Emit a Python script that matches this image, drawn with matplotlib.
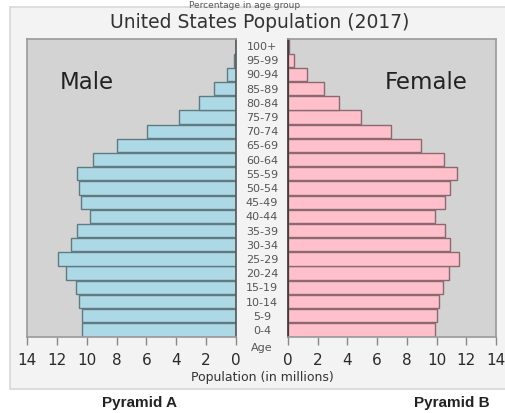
import matplotlib
matplotlib.use('Agg')
import matplotlib.pyplot as plt
from matplotlib.patches import Rectangle

ages = ['0-4', '5-9', '10-14', '15-19', '20-24', '25-29', '30-34', '35-39', '40-44',
        '45-49', '50-54', '55-59', '60-64', '65-69', '70-74', '75-79', '80-84',
        '85-89', '90-94', '95-99', '100+']
male = [10.3, 10.3, 10.55, 10.75, 11.4, 11.95, 11.05, 10.65, 9.75,
        10.4, 10.55, 10.65, 9.6, 7.95, 5.95, 3.8, 2.45, 1.45, 0.6, 0.15, 0.03]
female = [9.9, 10.0, 10.15, 10.4, 10.85, 11.5, 10.9, 10.6, 9.9,
          10.6, 10.9, 11.4, 10.5, 8.95, 6.9, 4.9, 3.45, 2.4, 1.25, 0.38, 0.05]
xticks = [0, 2, 4, 6, 8, 10, 12, 14]

W, H = 505, 414
fig = plt.figure(figsize=(W / 100, H / 100), dpi=100)
fig.patch.set_facecolor('white')

# light frame behind the chart
fig.patches.append(Rectangle((10 / W, 1 - 390 / H), 500 / W, 382 / H,
                             transform=fig.transFigure, facecolor='#f3f3f3',
                             edgecolor='#d8d8d8', linewidth=1.2, zorder=-5))


def pix(x0, y0, x1, y1):
    return [x0 / W, 1 - y1 / H, (x1 - x0) / W, (y1 - y0) / H]


axl = fig.add_axes(pix(27, 40, 236, 338))
axr = fig.add_axes(pix(288, 40, 496, 338))

pos = list(range(len(ages)))
axl.barh(pos, male, height=0.94, color='#add8e6', edgecolor='#5f7a80', linewidth=1.0)
axr.barh(pos, female, height=0.94, color='#ffc0cb', edgecolor='#8a6a70', linewidth=1.0)

for ax in (axl, axr):
    ax.set_facecolor('#d3d3d3')
    ax.set_xlim(0, 14)
    ax.set_ylim(-0.5, len(ages) - 0.5)
    ax.set_yticks([])
    ax.set_xticks(xticks)
    ax.tick_params(axis='x', direction='out', length=6, width=1, color='#888888',
                   labelsize=11, labelcolor='#2a2a2a', pad=5)
    for s in ax.spines.values():
        s.set_color('#9a9a9a')
        s.set_linewidth(1.2)
axl.invert_xaxis()
axl.spines['right'].set_color('#555555')
axr.spines['left'].set_color('#333333')

axl.text(0.287, 0.856, 'Male', transform=axl.transAxes, fontsize=16.5,
         color='#222222', ha='center', va='center')
axr.text(0.663, 0.856, 'Female', transform=axr.transAxes, fontsize=16.5,
         color='#222222', ha='center', va='center')

# age labels in the middle gap
cx = 262 / W
for i, a in enumerate(ages):
    y = 1 - (338 - (i + 0.5) * 298 / 21) / H
    fig.text(cx, y, a, ha='center', va='center', fontsize=8, color='#555555')
fig.text(cx, 1 - 348 / H, 'Age', ha='center', va='center', fontsize=8, color='#555555')

fig.text(cx, 1 - 378 / H, 'Population (in millions)', ha='center', va='center',
         fontsize=9, color='#333333')
fig.text(260 / W, 1 - 22 / H, 'United States Population (2017)', ha='center',
         va='center', fontsize=13.5, color='#333333')
fig.text(245 / W, 1 - 1 / H, 'Percentage in age group', ha='center', va='top',
         fontsize=6.5, color='#555555')

fig.text(140 / W, 1 - 403 / H, 'Pyramid A', ha='center', va='center', fontsize=11,
         fontweight='bold', family='Liberation Sans', color='#222222')
fig.text(452 / W, 1 - 403 / H, 'Pyramid B', ha='center', va='center', fontsize=11,
         fontweight='bold', family='Liberation Sans', color='#222222')

fig.savefig('out.png', dpi=100)
